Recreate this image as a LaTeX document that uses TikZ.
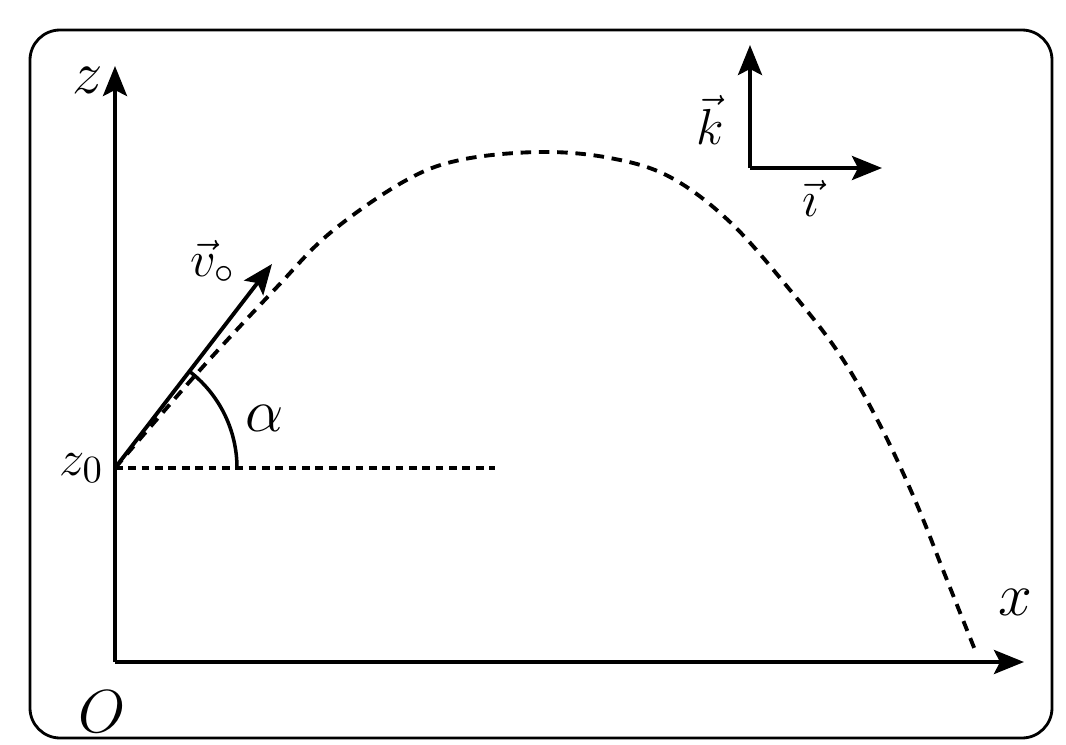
\documentclass[tikz,border=0pt]{standalone}
\usepackage{amsmath,amssymb}
\usepackage{tikz}
\usetikzlibrary{arrows.meta,positioning}

\begin{document}
\begin{tikzpicture}[
    x=0.01cm, y=-0.01cm,
    frame/.style={draw, line width=0.8pt, rounded corners=0.3cm},
    axis/.style={-{Stealth[length=3mm,width=2.4mm,inset=0.6mm]}, line width=1.1pt},
    traj/.style={line width=1.1pt, dash pattern=on 3pt off 2.2pt},
    level/.style={line width=0.9pt, dash pattern=on 2.2pt off 1.6pt},
    lbl/.style={font=\fontsize{18}{20}\selectfont, inner sep=1pt},
    small/.style={font=\fontsize{15}{17}\selectfont, inner sep=1pt}
]
\useasboundingbox (0,0) rectangle (1066,745);

% Frame
\draw[frame] (30,30) rectangle (1052,738);

% Points
\coordinate (O) at (115,662);
\coordinate (ztop) at (115,66);
\coordinate (xend) at (1024,662);
\coordinate (z0) at (115,468);
\coordinate (vtip) at (272,264);
\coordinate (hend) at (495,468);
\coordinate (arcstart) at (237,468);

% Axes
\draw[axis] (O) -- (ztop);
\draw[axis] (O) -- (xend);
\node[lbl] (zlab) at (88,80) {$z$};
\node[lbl] (xlab) at (1015,602) {$x$};
\node[lbl] (Olab) at (102,712) {$O$};
\node[small, left=2pt of z0] (z0lab) {$z_0$};

% Horizontal at z0
\draw[level] (z0) -- (hend);

% Trajectory
\draw[traj] plot[smooth, tension=0.6] coordinates {
    (115,468) (200,370) (277,287) (330,233) (403,182) (460,160) (540,152)
    (610,158) (670,177) (730,222) (790,290) (840,355) (880,425)
    (915,500) (945,575) (975,650)};

% Initial velocity and angle
\draw[axis] (z0) -- (vtip);
\draw[line width=1pt] (arcstart) arc[start angle=0, end angle=-53, radius=122];
\node[lbl] (alab) at (265,418) {$\alpha$};
\node[small] (vlab) at (213,262) {$\vec{v}_{\circ}$};

% Unit vectors
\coordinate (unit) at (750,168);
\coordinate (kend) at (750,45);
\coordinate (iend) at (882,168);
\draw[axis] (unit) -- (kend);
\draw[axis] (unit) -- (iend);
\node[small] (klab) at (710,120) {$\vec{k}$};
\node[small] (ilab) at (810,198) {$\vec{\imath}$};

\end{tikzpicture}
\end{document}
